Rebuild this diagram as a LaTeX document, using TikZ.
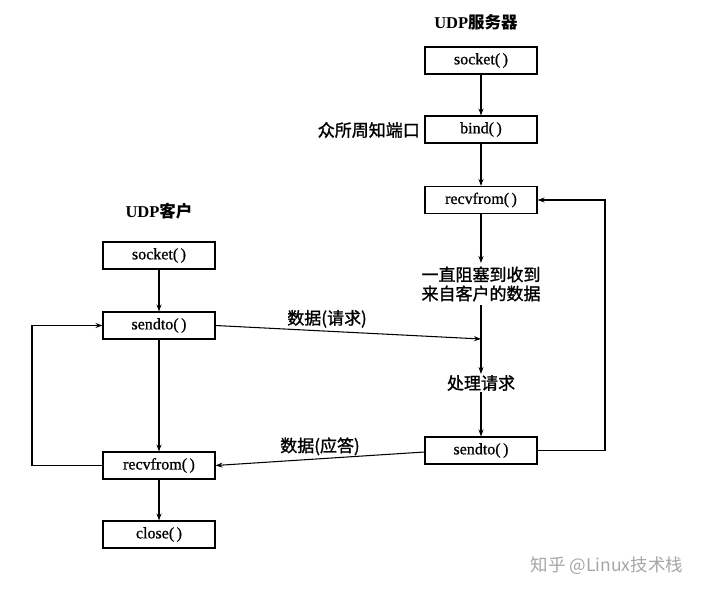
\documentclass[tikz,border=0pt]{standalone}
\usepackage{fontspec}
\setmainfont{Liberation Serif}
\newfontfamily\boxfont[FakeBold=0.8]{Liberation Serif}
\newfontfamily\cjk[FakeBold=1.3]{Noto Sans CJK SC}
\newfontfamily\cjkplain{Noto Sans CJK SC}
\usetikzlibrary{arrows.meta}
\newcommand{\pp}{(\kern2.5pt)}
\begin{document}
\begin{tikzpicture}[x=1pt,y=-1pt,
  fnbox/.style={draw,line width=1.1pt,minimum width=112pt,minimum height=27pt,inner sep=0pt,font=\boxfont\fontsize{16}{17}\selectfont},
  lbl/.style={font=\cjk\fontsize{17}{20}\selectfont,inner sep=1pt,align=center},
  ttl/.style={font=\bfseries\fontsize{16.5}{19}\selectfont,inner sep=0pt},
  conn/.style={line width=1.05pt},
  arr/.style={conn,-{Stealth[length=7pt,width=5pt]}}]
\useasboundingbox (0,0) rectangle (718,595);
% server
\node[ttl] (stitle) at (476,22) {UDP{\cjkplain\bfseries 服务器}};
\node[fnbox] (ssocket) at (481,60.5) {socket\pp};
\node[fnbox] (sbind) at (481,129.5) {bind\pp};
\node[lbl,anchor=east] (wk) at (421,130) {众所周知端口};
\node[fnbox] (srecv) at (481,200) {recvfrom\pp};
\node[lbl,font=\cjk\fontsize{17}{19}\selectfont] (stext) at (481,284) {一直阻塞到收到\\来自客户的数据};
\coordinate (smid) at (481,339);
\node[lbl] (sproc) at (481,383) {处理请求};
\node[fnbox] (ssend) at (481,450.5) {sendto\pp};
% client
\node[ttl] (ctitle) at (159,211) {UDP{\cjkplain\bfseries 客户}};
\node[fnbox] (csocket) at (159,255.5) {socket\pp};
\node[fnbox] (csend) at (159,325.5) {sendto\pp};
\node[fnbox] (crecv) at (159,465.5) {recvfrom\pp};
\node[fnbox] (cclose) at (159,534.5) {close\pp};
\coordinate (cl) at (32,465.5);
\coordinate (sr) at (605,450.5);
% server arrows
\draw[arr] (ssocket) -- (sbind);
\draw[arr] (sbind) -- (srecv);
\draw[arr] (srecv) -- (481,263);
\draw[conn] (481,305) -- (smid);
\draw[arr] (smid) -- (sproc);
\draw[arr] (sproc) -- (ssend);
\draw[arr] (ssend.east) -- (sr) |- (srecv.east);
% client arrows
\draw[arr] (csocket) -- (csend);
\draw[arr] (csend) -- (crecv);
\draw[arr] (crecv) -- (cclose);
\draw[arr] (crecv.west) -- (cl) |- (csend.west);
% messages
\draw[arr] (csend.east) -- node[lbl,pos=0.42,above=2pt] (req) {数据(请求)} (smid);
\draw[arr] (ssend.west |- 0,452) -- node[lbl,pos=0.5,above=2pt] (resp) {数据(应答)} (crecv.east);
% watermark
\node[font=\cjkplain\fontsize{17.5}{20}\selectfont,text=black!35] (wm) at (607,566) {知乎 @Linux技术栈};
\end{tikzpicture}
\end{document}
